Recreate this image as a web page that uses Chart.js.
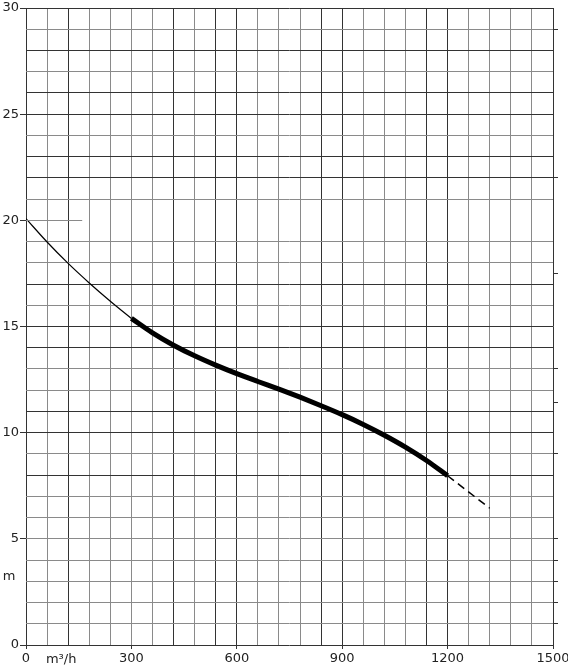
<!DOCTYPE html>
<html>
<head>
<meta charset="utf-8">
<script src="https://cdn.jsdelivr.net/npm/chart.js@4.4.1/dist/chart.umd.min.js"></script>
<style>
    html, body { margin: 0; padding: 0; background: #ffffff; }
    #wrap { width: 568px; height: 672px; position: relative; }
</style>
</head>
<body>
<div id="wrap"><canvas id="pumpChart"></canvas></div>
<script>
// Pump curve: head (m) vs flow (m3/h)
const flowThin = [0, 60, 120, 180, 240, 300];
const headThin = [20.08, 18.98, 17.97, 17.05, 16.19, 15.38];
const flowThick = [300, 360, 420, 480, 540, 600, 660, 720, 780, 840, 900, 960, 1020, 1080, 1140, 1200];
const headThick = [15.38, 14.7, 14.12, 13.62, 13.18, 12.78, 12.41, 12.05, 11.67, 11.27, 10.85, 10.39, 9.88, 9.32, 8.69, 7.97];
const flowDash = [1200, 1320];
const headDash = [7.97, 6.44];

const xLabelStep = 300;
const yLabelStep = 5;
const darkX = [0, 120, 420, 540, 600, 840, 900, 1140, 1200, 1500];
const darkY = [0, 8, 10, 11, 14, 15, 17, 22, 23, 25, 26, 28, 30];
const rightTicks = [29, 22, 17.5, 13, 11.4, 9, 5, 4, 3, 2, 1];

function toPoints(xs, ys) {
    return xs.map((x, i) => ({ x: x, y: ys[i] }));
}

const axisFont = { family: 'DejaVu Sans', size: 13 };

const labelsPlugin = {
    id: 'unitLabels',
    afterDraw(chart) {
        const ctx = chart.ctx;
        const xs = chart.scales.x;
        const ys = chart.scales.y;
        ctx.save();
        // short grid line at 20 (only drawn near the axis in the original)
        const y20 = Math.round(ys.getPixelForValue(20)) + 0.5;
        ctx.strokeStyle = '#8a8a8a';
        ctx.lineWidth = 1;
        ctx.beginPath();
        ctx.moveTo(xs.getPixelForValue(0), y20);
        ctx.lineTo(xs.getPixelForValue(160), y20);
        ctx.stroke();
        ctx.fillStyle = '#222';
        ctx.font = '13px "DejaVu Sans"';
        ctx.textBaseline = 'middle';
        ctx.textAlign = 'center';
        ctx.fillText('m', 9, ys.getPixelForValue(3.2));
        ctx.fillText('m\u00B3/h', xs.getPixelForValue(100), ys.bottom + 15);
        ctx.restore();
    }
};

new Chart(document.getElementById('pumpChart').getContext('2d'), {
    type: 'line',
    data: {
        datasets: [{
            data: toPoints(flowThin, headThin),
            borderColor: '#000',
            borderWidth: 1.2,
            pointRadius: 0,
            cubicInterpolationMode: 'monotone'
        }, {
            data: toPoints(flowThick, headThick),
            borderColor: '#000',
            borderWidth: 5,
            pointRadius: 0,
            cubicInterpolationMode: 'monotone'
        }, {
            data: toPoints(flowDash, headDash),
            borderColor: '#000',
            borderWidth: 1.5,
            borderDash: [8, 5],
            pointRadius: 0
        }]
    },
    options: {
        responsive: true,
        maintainAspectRatio: false,
        animation: false,
        layout: { padding: { top: 8, right: 0, left: 0, bottom: 0 } },
        plugins: {
            legend: { display: false },
            tooltip: { enabled: false }
        },
        scales: {
            x: {
                type: 'linear',
                min: 0,
                max: 1500,
                afterFit: s => { s.height = 27; s.paddingLeft = 0; s.paddingRight = 0; },
                border: { display: false },
                grid: {
                    color: c => darkX.includes(c.tick.value) ? '#333' : '#8a8a8a',
                    tickColor: c => c.tick.value % xLabelStep === 0 ? '#333' : 'rgba(0,0,0,0)',
                    tickLength: 4,
                    lineWidth: 1
                },
                ticks: {
                    stepSize: 60,
                    autoSkip: false,
                    maxRotation: 0,
                    padding: 2,
                    color: '#222',
                    font: axisFont,
                    callback: v => v % xLabelStep === 0 ? String(v) : ''
                }
            },
            y: {
                type: 'linear',
                min: 0,
                max: 30,
                afterFit: s => { s.width = 26; s.paddingTop = 0; s.paddingBottom = 0; },
                border: { display: false },
                grid: {
                    color: c => c.tick.value === 20 ? 'rgba(0,0,0,0)' : (darkY.includes(c.tick.value) ? '#333' : '#8a8a8a'),
                    tickColor: c => c.tick.value % yLabelStep === 0 ? '#333' : 'rgba(0,0,0,0)',
                    tickLength: 6,
                    lineWidth: 1
                },
                ticks: {
                    stepSize: 1,
                    autoSkip: false,
                    padding: 1,
                    color: '#222',
                    font: axisFont,
                    callback: v => v % yLabelStep === 0 ? String(v) : ''
                }
            },
            y2: {
                type: 'linear',
                position: 'right',
                min: 0,
                max: 30,
                afterFit: s => { s.width = 15; },
                afterBuildTicks: s => { s.ticks = rightTicks.map(v => ({ value: v })); },
                border: { display: false },
                grid: {
                    drawOnChartArea: false,
                    color: '#333',
                    tickLength: 5
                },
                ticks: { display: false }
            }
        }
    },
    plugins: [labelsPlugin]
});
</script>
</body>
</html>
